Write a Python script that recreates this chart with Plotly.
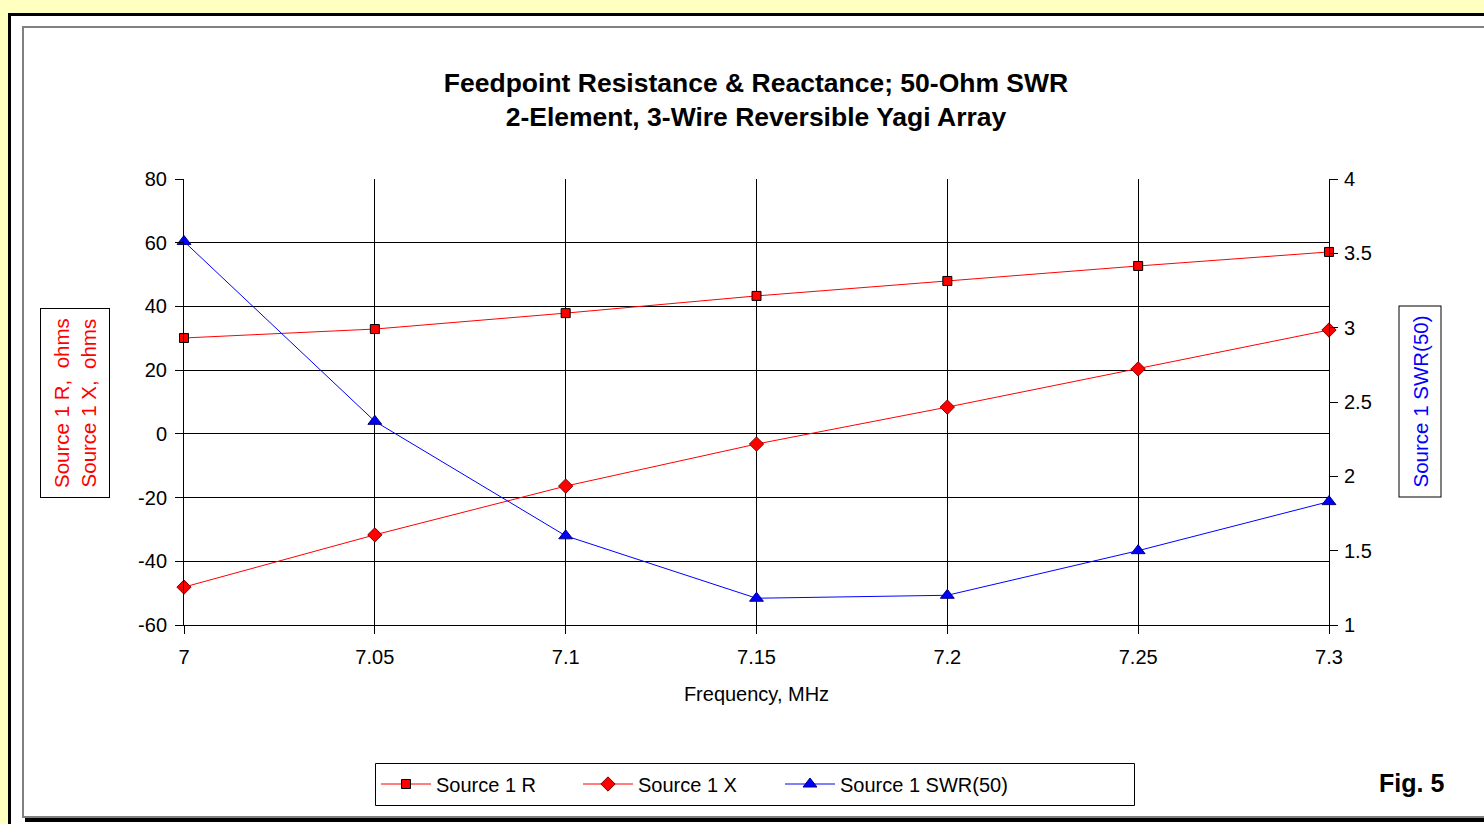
import plotly.graph_objects as go

# ---- data ----
freq = [7.00, 7.05, 7.10, 7.15, 7.20, 7.25, 7.30]
source_r = [30.1, 32.9, 37.9, 43.3, 48.0, 52.7, 57.1]
source_x = [-48.1, -31.7, -16.4, -3.2, 8.4, 20.4, 32.6]
swr50 = [3.58, 2.37, 1.60, 1.18, 1.20, 1.50, 1.83]

x_ticks = [7.00, 7.05, 7.10, 7.15, 7.20, 7.25, 7.30]
x_tick_labels = ["7", "7.05", "7.1", "7.15", "7.2", "7.25", "7.3"]
y_ticks = [-60, -40, -20, 0, 20, 40, 60, 80]
y_tick_labels = ["-60", "-40", "-20", "0", "20", "40", "60", "80"]
y2_ticks = [1, 1.5, 2, 2.5, 3, 3.5, 4]
y2_tick_labels = ["1", "1.5", "2", "2.5", "3", "3.5", "4"]

W, H = 1484, 824
L, R, T, B = 184, 1329, 179, 625
FONT = "Liberation Sans, Arial, sans-serif"


def px(x):
    return (x - L) / (R - L)


def py(y):
    return (B - y) / (B - T)


fig = go.Figure()
fig.add_trace(go.Scatter(
    x=freq, y=source_r, name="Source 1 R", mode="lines+markers",
    legend="legend", showlegend=True, cliponaxis=False,
    line=dict(color="#FF0000", width=1),
    marker=dict(symbol="square", size=9, color="#FF0000",
                line=dict(color="#000000", width=1)),
))
fig.add_trace(go.Scatter(
    x=freq, y=source_x, name="Source 1 X", mode="lines+markers",
    legend="legend2", showlegend=True, cliponaxis=False,
    line=dict(color="#FF0000", width=1),
    marker=dict(symbol="diamond", size=11, color="#FF0000",
                line=dict(color="#800000", width=1)),
))
fig.add_trace(go.Scatter(
    x=freq, y=swr50, name="Source 1 SWR(50)", mode="lines+markers",
    yaxis="y2", legend="legend3", showlegend=True, cliponaxis=False,
    line=dict(color="#0000FF", width=1),
    marker=dict(symbol="triangle-up", size=12, color="#0000FF",
                line=dict(color="#000080", width=1)),
))

shapes = [
    # outer frame with black border
    dict(type="rect", xref="paper", yref="paper", layer="below",
         x0=px(9.5), y0=py(14.5), x1=px(1520), y1=py(860),
         line=dict(color="#000000", width=3), fillcolor="#FFFFFF"),
    # bottom black shadow
    dict(type="line", xref="paper", yref="paper", layer="below",
         x0=px(25), y0=py(820), x1=px(1520), y1=py(820),
         line=dict(color="#000000", width=4)),
    # inner gray frame
    dict(type="rect", xref="paper", yref="paper", layer="below",
         x0=px(23), y0=py(27), x1=px(1520), y1=py(817),
         line=dict(color="#808080", width=2), fillcolor="#FFFFFF"),
    # legend box
    dict(type="rect", xref="paper", yref="paper",
         x0=px(375.5), y0=py(763.5), x1=px(1134.5), y1=py(805.5),
         line=dict(color="#000000", width=1), fillcolor="rgba(0,0,0,0)"),
]

annotations = [
    dict(text="Source 1 R,  ohms<br>Source 1 X,  ohms", textangle=-90,
         xref="paper", yref="paper", x=px(75), y=py(403),
         xanchor="center", yanchor="middle", showarrow=False,
         font=dict(family=FONT, size=20.5, color="#FF0000"),
         bordercolor="#000000", borderwidth=1, borderpad=9, bgcolor="#FFFFFF"),
    dict(text="Source 1 SWR(50)", textangle=-90,
         xref="paper", yref="paper", x=px(1419.5), y=py(402),
         xanchor="center", yanchor="middle", showarrow=False,
         font=dict(family=FONT, size=20.5, color="#0000FF"),
         bordercolor="#000000", borderwidth=1, borderpad=9, bgcolor="#FFFFFF"),
    dict(text="<b>Fig. 5</b>", xref="paper", yref="paper",
         x=px(1411), y=py(783), xanchor="center", yanchor="middle",
         showarrow=False, font=dict(family=FONT, size=25, color="#000000")),
]

legend_common = dict(
    orientation="h", y=py(784), xanchor="left", yanchor="middle",
    bgcolor="rgba(0,0,0,0)", borderwidth=0, itemwidth=50,
    font=dict(family=FONT, size=20, color="#000000"),
    visible=True,
)

fig.update_layout(
    width=W, height=H,
    margin=dict(l=L, r=W - R, t=T, b=H - B, autoexpand=False),
    paper_bgcolor="#FFFFC0", plot_bgcolor="#FFFFFF",
    showlegend=True,
    font=dict(family=FONT, size=20, color="#000000"),
    title=dict(
        text="<b>Feedpoint Resistance & Reactance; 50-Ohm SWR<br>2-Element, 3-Wire Reversible Yagi Array</b>",
        x=px(756), xref="paper", xanchor="center",
        y=1 - 91.5 / H, yref="container", yanchor="middle",
        font=dict(family=FONT, size=26.5, color="#000000"),
    ),
    xaxis=dict(
        range=[7.0, 7.3], tickvals=x_ticks, ticktext=x_tick_labels,
        showgrid=True, gridcolor="#000000", gridwidth=1,
        zeroline=False, showline=True, linecolor="#000000", linewidth=1,
        ticks="outside", ticklen=8, tickcolor="#000000",
        ticklabelstandoff=6,
        title=dict(text="Frequency, MHz", standoff=19,
                   font=dict(family=FONT, size=20)),
        tickfont=dict(family=FONT, size=20, color="#000000"),
    ),
    yaxis=dict(
        range=[-60, 80], tickvals=y_ticks, ticktext=y_tick_labels,
        showgrid=True, gridcolor="#000000", gridwidth=1,
        zeroline=False, showline=True, linecolor="#000000", linewidth=1,
        ticks="outside", ticklen=8, tickcolor="#000000",
        ticklabelstandoff=4,
        tickfont=dict(family=FONT, size=20, color="#000000"),
    ),
    yaxis2=dict(
        range=[1, 4], tickvals=y2_ticks, ticktext=y2_tick_labels,
        overlaying="y", side="right", showgrid=False, zeroline=False,
        showline=True, linecolor="#000000", linewidth=1,
        ticks="outside", ticklen=8, tickcolor="#000000",
        ticklabelstandoff=2,
        tickfont=dict(family=FONT, size=20, color="#000000"),
    ),
    legend=dict(x=px(376), **legend_common),
    legend2=dict(x=px(578), **legend_common),
    legend3=dict(x=px(780), **legend_common),
    shapes=shapes,
    annotations=annotations,
)

fig.write_html("out.html")
